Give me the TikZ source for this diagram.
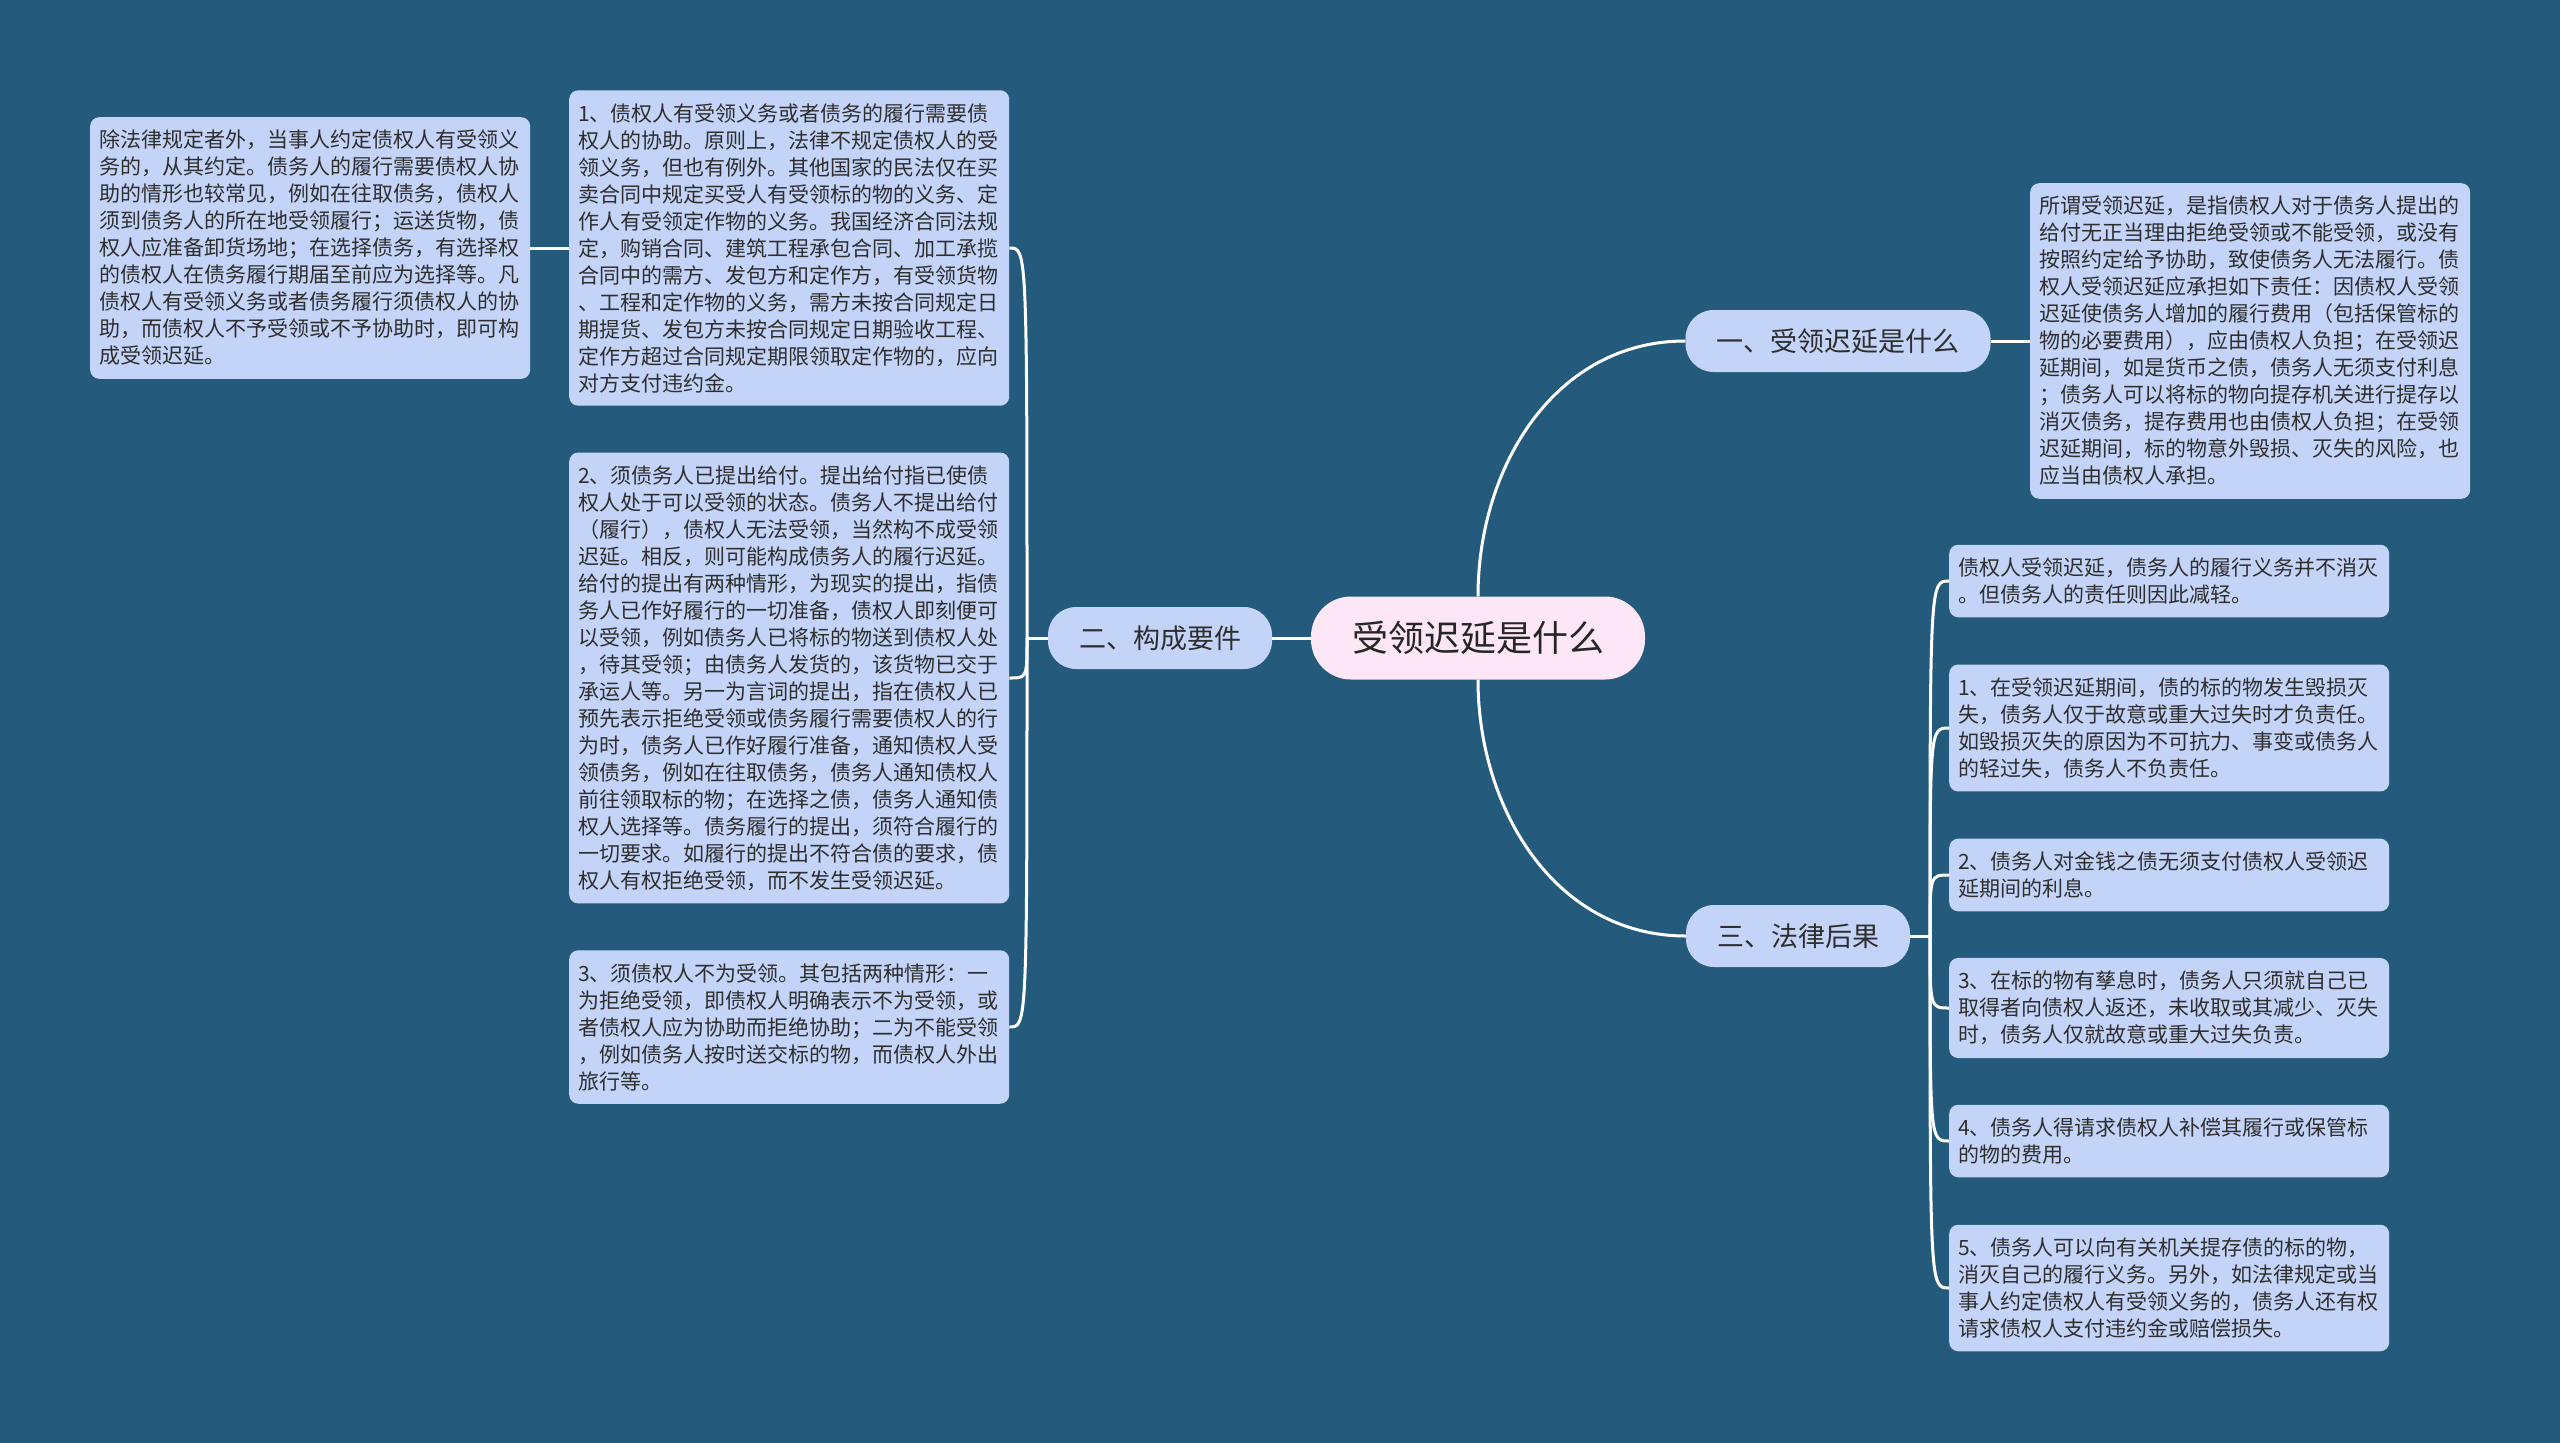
\documentclass[tikz,border=0pt]{standalone}
\usepackage{fontspec}
\setmainfont{Noto Sans CJK SC}
\definecolor{bgblue}{HTML}{245A7B}
\definecolor{leafblue}{HTML}{C3D4F8}
\definecolor{rootpink}{HTML}{FDE6F6}
\definecolor{inkgray}{HTML}{2E2E2E}

\begin{document}
\begin{tikzpicture}[x=1pt, y=-1pt,
    link/.style={draw=white, line width=3pt},
    leaf/.style={fill=leafblue, rounded corners=9pt, anchor=west, text width=422pt,
        inner xsep=9pt, inner ysep=13pt, align=left, text=inkgray,
        font=\fontsize{21}{27}\selectfont},
    topic/.style={fill=leafblue, rounded corners=28pt, minimum height=62pt,
        inner xsep=31pt, text=inkgray, font=\fontsize{27}{32}\selectfont}]
        \useasboundingbox (0,0) rectangle (2560,1443);
        \fill[bgblue] (0,0) rectangle (2560,1443);

        % centre and main topics
        \node[topic, fill=rootpink, minimum height=83pt, rounded corners=40pt, inner xsep=41pt,
            text=black!85, font=\fontsize{36}{40}\selectfont] (root) at (1478,638) {受领迟延是什么};
        \node[topic] (basics) at (1838,341) {一、受领迟延是什么};
        \node[topic] (elements) at (1160,638) {二、构成要件};
        \node[topic] (effects) at (1798,936) {三、法律后果};

        % one
        \node[leaf] (ba) at (2030,341) {所谓受领迟延，是指债权人对于债务人提出的\\给付无正当理由拒绝受领或不能受领，或没有\\按照约定给予协助，致使债务人无法履行。债\\权人受领迟延应承担如下责任：因债权人受领\\迟延使债务人增加的履行费用（包括保管标的\\物的必要费用），应由债权人负担；在受领迟\\延期间，如是货币之债，债务人无须支付利息\\；债务人可以将标的物向提存机关进行提存以\\消灭债务，提存费用也由债权人负担；在受领\\迟延期间，标的物意外毁损、灭失的风险，也\\应当由债权人承担。};

        % two
        \node[leaf] (ea) at (569,248) {1、债权人有受领义务或者债务的履行需要债\\权人的协助。原则上，法律不规定债权人的受\\领义务，但也有例外。其他国家的民法仅在买\\卖合同中规定买受人有受领标的物的义务、定\\作人有受领定作物的义务。我国经济合同法规\\定，购销合同、建筑工程承包合同、加工承揽\\合同中的需方、发包方和定作方，有受领货物\\、工程和定作物的义务，需方未按合同规定日\\期提货、发包方未按合同规定日期验收工程、\\定作方超过合同规定期限领取定作物的，应向\\对方支付违约金。};
        \node[leaf] (tl) at (90,248) {除法律规定者外，当事人约定债权人有受领义\\务的，从其约定。债务人的履行需要债权人协\\助的情形也较常见，例如在往取债务，债权人\\须到债务人的所在地受领履行；运送货物，债\\权人应准备卸货场地；在选择债务，有选择权\\的债权人在债务履行期届至前应为选择等。凡\\债权人有受领义务或者债务履行须债权人的协\\助，而债权人不予受领或不予协助时，即可构\\成受领迟延。};
        \node[leaf] (eb) at (569,678) {2、须债务人已提出给付。提出给付指已使债\\权人处于可以受领的状态。债务人不提出给付\\（履行），债权人无法受领，当然构不成受领\\迟延。相反，则可能构成债务人的履行迟延。\\给付的提出有两种情形，为现实的提出，指债\\务人已作好履行的一切准备，债权人即刻便可\\以受领，例如债务人已将标的物送到债权人处\\，待其受领；由债务人发货的，该货物已交于\\承运人等。另一为言词的提出，指在债权人已\\预先表示拒绝受领或债务履行需要债权人的行\\为时，债务人已作好履行准备，通知债权人受\\领债务，例如在往取债务，债务人通知债权人\\前往领取标的物；在选择之债，债务人通知债\\权人选择等。债务履行的提出，须符合履行的\\一切要求。如履行的提出不符合债的要求，债\\权人有权拒绝受领，而不发生受领迟延。};
        \node[leaf] (ec) at (569,1027) {3、须债权人不为受领。其包括两种情形：一\\为拒绝受领，即债权人明确表示不为受领，或\\者债权人应为协助而拒绝协助；二为不能受领\\，例如债务人按时送交标的物，而债权人外出\\旅行等。};

        % three
        \node[leaf] (fa) at (1949,581) {债权人受领迟延，债务人的履行义务并不消灭\\。但债务人的责任则因此减轻。};
        \node[leaf] (fb) at (1949,728) {1、在受领迟延期间，债的标的物发生毁损灭\\失，债务人仅于故意或重大过失时才负责任。\\如毁损灭失的原因为不可抗力、事变或债务人\\的轻过失，债务人不负责任。};
        \node[leaf] (fc) at (1949,875) {2、债务人对金钱之债无须支付债权人受领迟\\延期间的利息。};
        \node[leaf] (fd) at (1949,1008) {3、在标的物有孳息时，债务人只须就自己已\\取得者向债权人返还，未收取或其减少、灭失\\时，债务人仅就故意或重大过失负责。};
        \node[leaf] (fe) at (1949,1141) {4、债务人得请求债权人补偿其履行或保管标\\的物的费用。};
        \node[leaf] (ff) at (1949,1288) {5、债务人可以向有关机关提存债的标的物，\\消灭自己的履行义务。另外，如法律规定或当\\事人约定债权人有受领义务的，债务人还有权\\请求债权人支付违约金或赔偿损失。};

        \coordinate (jl) at (1027,638);
        \coordinate (jr) at (1930,936);

        % connectors
        \draw[link] (root.north) .. controls +(0,-130) and +(-130,0) .. (basics.west);
        \draw[link] (root.south) .. controls +(0,130) and +(-130,0) .. (effects.west);
        \draw[link] (root.west) -- (elements.east);
        \draw[link] (basics.east) -- (ba.west);
        \draw[link] (elements.west) -- (jl);
        \foreach \n in {ea,eb,ec}
            \draw[link] (jl) .. controls (jl |- \n.east) .. (\n.east);
        \draw[link] (ea.west) -- (tl.east);
        \draw[link] (effects.east) -- (jr);
        \foreach \n in {fa,fb,fc,fd,fe,ff}
            \draw[link] (jr) .. controls (jr |- \n.west) .. (\n.west);
    \end{tikzpicture}
\end{document}
